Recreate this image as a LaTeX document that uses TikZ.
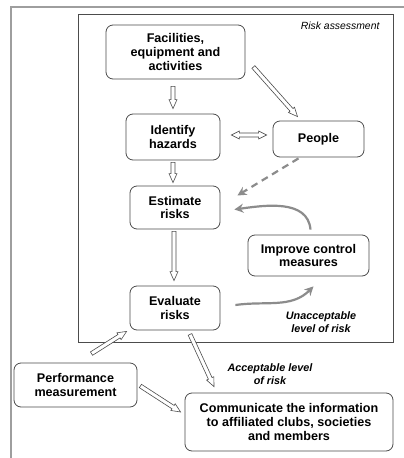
\documentclass[tikz,border=0pt]{standalone}
\usepackage{fontspec}
\setmainfont{Liberation Sans}
\usetikzlibrary{calc,arrows.meta}
\definecolor{framegray}{gray}{0.62}
\definecolor{boxline}{gray}{0.3}
\definecolor{curvegray}{gray}{0.55}
\tikzset{
  box/.style={draw=boxline, line width=0.8pt, rounded corners=7pt, align=center,
    font=\fontsize{12.6}{13.8}\selectfont\bfseries, inner sep=0pt},
  hollow/.style={draw=boxline, line width=0.6pt, fill=white, line join=miter},
  grayarrow/.style={draw=curvegray, line width=2.2pt, -{Stealth[length=9pt,width=9pt]}},
  note/.style={font=\fontsize{10.8}{12.5}\selectfont\bfseries\itshape, align=center},
}
% hollow single arrow from #1 to #2
\newcommand\harr[2]{%
  \coordinate (hs) at #1; \coordinate (he) at #2;
  \coordinate (hb) at ($(he)!9pt!(hs)$);
  \draw[hollow] ($(hs)!2pt!90:(he)$) -- ($(hb)!2pt!90:(he)$) -- ($(hb)!4pt!90:(he)$)
    -- (he) -- ($(hb)!4pt!-90:(he)$) -- ($(hb)!2pt!-90:(he)$) -- ($(hs)!2pt!-90:(he)$) -- cycle;
}
% hollow double-headed arrow
\newcommand\hdarr[2]{%
  \coordinate (hs) at #1; \coordinate (he) at #2;
  \coordinate (hb) at ($(he)!8pt!(hs)$);
  \coordinate (ha) at ($(hs)!8pt!(he)$);
  \draw[hollow] (hs) -- ($(ha)!4pt!-90:(hs)$) -- ($(ha)!2pt!-90:(hs)$)
    -- ($(hb)!2pt!90:(he)$) -- ($(hb)!4pt!90:(he)$)
    -- (he) -- ($(hb)!4pt!-90:(he)$) -- ($(hb)!2pt!-90:(he)$)
    -- ($(ha)!2pt!90:(hs)$) -- ($(ha)!4pt!90:(hs)$) -- cycle;
}
\begin{document}
\begin{tikzpicture}[x=1pt,y=-1pt]
\useasboundingbox[fill=white] (0,0) rectangle (404,458);
% outer partial frame
\draw[framegray, line width=1.5pt] (404,7) -- (11,7) -- (11,458);
% inner risk-assessment frame
\draw[boxline, line width=0.8pt] (78,14) rectangle (393,342);
\node[font=\fontsize{10.4}{12}\selectfont\itshape, anchor=north east] (ratitle) at (383,18) {Risk assessment};

\node[box, minimum width=139pt, minimum height=54pt] (fac) at (175.5,52) {Facilities,\\equipment and\\activities};
\node[box, minimum width=94pt, minimum height=46pt] (haz) at (173,137) {Identify\\hazards};
\node[box, minimum width=91pt, minimum height=36pt] (ppl) at (318.5,139) {People};
\node[box, minimum width=90pt, minimum height=43pt] (est) at (175,207.5) {Estimate\\risks};
\node[box, minimum width=121pt, minimum height=41pt] (imp) at (308.5,255.5) {Improve control\\measures};
\node[box, minimum width=90pt, minimum height=44pt] (eva) at (175,308) {Evaluate\\risks};
\node[box, minimum width=123pt, minimum height=44pt] (perf) at (75.5,385) {Performance\\measurement};
\node[box, minimum width=208pt, minimum height=58pt] (com) at (289,422) {Communicate the information\\to affiliated clubs, societies\\and members};

\node[note] (unacc) at (321,322) {Unacceptable\\level of risk};
\node[note] (acc) at (270,374) {Acceptable level\\of risk};

% hollow arrows
\harr{($(haz.north|-fac.south)+(0,7)$)}{($(haz.north)+(0,-5)$)}
\harr{($(haz.south)+(0,2)$)}{($(haz.south|-est.north)+(0,-3)$)}
\harr{($(fac.east)+(8,15)$)}{($(ppl.north)+(-21,-4)$)}
\hdarr{($(haz.east)+(11,-2)$)}{($(ppl.west|-haz.east)+(-6,-2)$)}
\harr{($(est.south)+(-1,2)$)}{($(eva.north)+(-1,-5)$)}
\harr{($(perf.north)+(16,-9)$)}{($(eva.south west)+(-3,1)$)}
\harr{($(perf.east)+(3,1)$)}{($(com.west)+(-4,-10)$)}
\harr{($(eva.south)+(15,4)$)}{($(com.north)+(-75,-6)$)}

% gray arrows
\draw[grayarrow, dash pattern=on 7pt off 5pt] ($(ppl.south)+(-20,1)$) -- ($(est.east)+(17,-12)$);
\draw[grayarrow] ($(imp.north)+(2,-5)$) to[out=95, in=8] ($(est.east)+(14,2)$);
\draw[grayarrow] ($(eva.east)+(15,-3)$) to[out=8, in=225] ($(imp.south)+(5,10)$);
\end{tikzpicture}
\end{document}
